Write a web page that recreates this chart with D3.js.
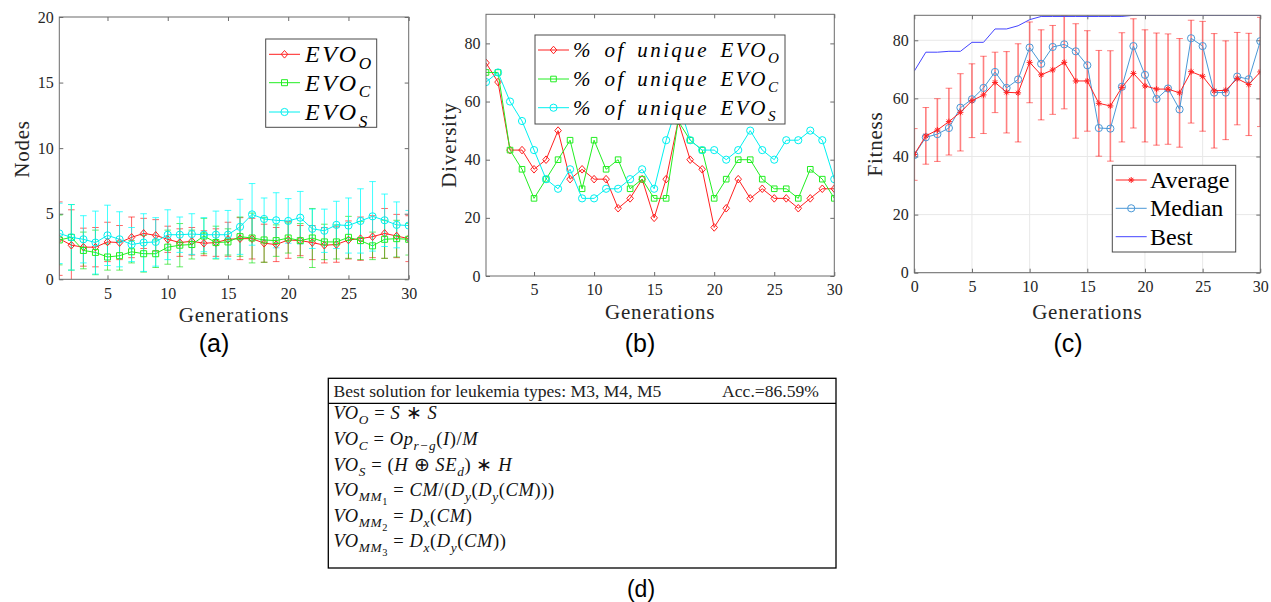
<!DOCTYPE html>
<html>
<head>
<meta charset="utf-8">
<script src="https://cdn.jsdelivr.net/npm/d3@7"></script>
<style>
  body { margin: 0; background: #fff; }
</style>
</head>
<body>
<svg id="fig" width="1271" height="602"></svg>
<script>
// ---- data ----
const generations = [1,2,3,4,5,6,7,8,9,10,11,12,13,14,15,16,17,18,19,20,21,22,23,24,25,26,27,28,29,30];
const fitnessGenerations = [0,1,2,3,4,5,6,7,8,9,10,11,12,13,14,15,16,17,18,19,20,21,22,23,24,25,26,27,28,29,30];

// (a) nodes, mean and std
const nodesO    = [3.1,2.6,2.45,2.45,2.85,2.8,3.2,3.5,3.35,3.05,2.8,2.9,2.75,2.8,3.05,3.1,3.1,2.75,2.65,3.0,2.95,2.8,2.6,2.65,3.0,3.1,3.25,3.5,3.3,3.1];
const nodesOErr = [2.8,2.7,1.45,1.5,1.5,1.3,1.55,1.15,1.2,1.0,1.05,1.05,0.95,1.05,1.3,1.6,1.55,1.45,1.3,1.4,1.15,1.3,1.35,1.35,1.45,1.65,1.6,1.9,1.65,1.75];
const nodesC    = [3.0,3.2,2.2,2.05,1.7,1.8,2.1,1.95,1.95,2.45,2.6,2.65,3.3,2.8,2.85,3.25,3.15,3.0,2.95,3.15,2.95,3.15,2.85,2.85,3.2,2.95,2.55,3.05,3.1,3.05];
const nodesCErr = [1.9,2.5,1.4,1.7,1.0,1.1,0.85,1.4,1.05,1.3,1.65,1.1,1.35,1.25,1.0,1.5,1.9,1.7,1.2,1.15,1.3,2.25,1.35,1.3,1.6,1.45,1.05,1.45,1.4,1.2];
const nodesS    = [3.5,3.2,3.05,2.8,3.35,3.05,2.65,2.8,2.85,3.4,3.4,3.45,3.4,3.4,3.4,4.0,4.95,4.6,4.5,4.45,4.7,3.85,3.7,4.15,4.1,4.45,4.8,4.5,4.15,4.1];
const nodesSErr = [2.3,2.5,1.8,2.4,2.3,2.1,1.3,2.2,1.85,1.9,1.35,1.55,1.3,1.8,1.85,2.1,2.35,1.6,2.1,1.7,2.0,1.5,1.65,1.8,2.1,2.45,2.65,2.0,1.75,1.15];

// (b) diversity, % of unique individuals
const divO = [73.3,66.7,43.3,43.3,36.7,40,50,33.3,36.7,33.3,33.3,23.3,26.7,33.3,20,33.3,53.3,40,36.7,16.7,23.3,33.3,26.7,30,26.7,26.7,23.3,26.7,30,30];
const divC = [70,70,43.3,36.7,26.7,33.3,40,46.7,30,46.7,36.7,40,30,33.3,26.7,26.7,53.3,46.7,43.3,26.7,33.3,40,40,33.3,30,30,26.7,36.7,33.3,26.7];
const divS = [66.7,70,60,53.3,43.3,33.3,30,36.7,26.7,26.7,30,30,33.3,36.7,30,46.7,60,46.7,43.3,43.3,40,43.3,50,43.3,40,46.7,46.7,50,46.7,33.3];

// (c) fitness
const fitAvg    = [40.7,47.1,49.1,52,55.2,59.2,61.2,65.5,62.1,61.9,72.4,68.1,69.8,72.4,66,66,58.3,57.4,63.8,68.6,64.3,63.2,63.2,61.9,69.2,67.6,62.6,62.8,66.8,64.8,69.1];
const fitAvgErr = [8.9,9.75,10.8,11.5,13.3,12.7,13.3,10.4,14,16.9,13.9,15.5,15.3,16,19.7,17.3,18.2,19,18.8,18.8,19.3,19.3,19,18.7,17.7,18.9,19.7,17,15.9,17.6,18.8];
const fitMedian = [40.5,46.6,47.7,49.8,56.8,59.7,63.6,69.1,63.6,66.5,77.5,71.9,77.7,78.6,76.2,71.4,49.8,49.6,64,78,68.1,59.8,63.4,56.2,80.7,78,62,62,67.5,66.6,79.7];
const fitBest   = [69.4,75.9,75.9,76.2,76.2,79.3,79.3,83.9,83.9,85,87.1,88.2,88.2,88.2,88.2,88.2,88.2,88.2,88.2,88.6,88.6,88.6,88.6,88.6,88.6,88.6,88.6,88.6,88.6,88.6,88.6];

// tick values
const genTicks = [5,10,15,20,25,30];
const fitGenTicks = [0,5,10,15,20,25,30];
const nodesTicks = [0,5,10,15,20];
const divTicks = [0,20,40,60,80];
const fitTicks = [0,20,40,60,80];

// (d) table
const tableHeader = "Best solution for leukemia types: M3, M4, M5";
const tableAcc = "Acc.=86.59%";
// [text, level (0 normal, 1 sub, 2 subsub), italic]
const tableRows = [
  [["VO",0,1],["O",1,1],[" = ",0,0],["S",0,1],[" \u2217 ",0,0],["S",0,1]],
  [["VO",0,1],["C",1,1],[" = ",0,0],["Op",0,1],["r\u2212g",1,1],["(",0,0],["I",0,1],[")/",0,0],["M",0,1]],
  [["VO",0,1],["S",1,1],[" = (",0,0],["H",0,1],[" \u2295 ",0,0],["SE",0,1],["d",1,1],[") \u2217 ",0,0],["H",0,1]],
  [["VO",0,1],["MM",1,1],["1",2,0],[" = ",0,0],["CM",0,1],["/(",0,0],["D",0,1],["y",1,1],["(",0,0],["D",0,1],["y",1,1],["(",0,0],["CM",0,1],[")))",0,0]],
  [["VO",0,1],["MM",1,1],["2",2,0],[" = ",0,0],["D",0,1],["x",1,1],["(",0,0],["CM",0,1],[")",0,0]],
  [["VO",0,1],["MM",1,1],["3",2,0],[" = ",0,0],["D",0,1],["x",1,1],["(",0,0],["D",0,1],["y",1,1],["(",0,0],["CM",0,1],["))",0,0]]
];

const SERIF = "'Liberation Serif', 'Times New Roman', serif";
const SANS = "'Liberation Sans', Arial, sans-serif";
const svg = d3.select("#fig");
const axisColor = "#6b6b6b";
const labelColor = "#262626";

// writes text made of parts with subscripts
function mathText(sel, x, y, parts, size, opts = {}) {
  const t = sel.append("text")
    .attr("x", x).attr("y", y)
    .style("font-family", SERIF)
    .style("font-size", size + "px")
    .attr("fill", opts.fill || "#000")
    .style("letter-spacing", (opts.spacing || 0) + "px")
    .style("word-spacing", (opts.wordSpacing || 0) + "px");
  let cur = 0;
  parts.forEach(([s, level, it]) => {
    const off = level === 0 ? 0 : level === 1 ? size * 0.28 : size * 0.48;
    const fs = level === 0 ? size : level === 1 ? size * 0.72 : size * 0.56;
    t.append("tspan")
      .attr("dy", off - cur)
      .style("font-size", fs + "px")
      .style("font-style", it ? "italic" : "normal")
      .style("white-space", "pre")
      .text(s);
    cur = off;
  });
  return t;
}

function markerPath(type, s) {
  if (type === "diamond") return `M0,${-s * 1.15}L${s},0L0,${s * 1.15}L${-s},0Z`;
  if (type === "square") return `M${-s},${-s}h${2 * s}v${2 * s}h${-2 * s}Z`;
  if (type === "circle") return d3.arc()({innerRadius: 0, outerRadius: s, startAngle: 0, endAngle: 2 * Math.PI});
  if (type === "star") {
    const d = s * 0.72;
    return `M0,${-s}V${s}M${-s},0H${s}M${-d},${-d}L${d},${d}M${-d},${d}L${d},${-d}`;
  }
  return "";
}

function makePanel(p) {
  const x = d3.scaleLinear().domain(p.xDomain).range([p.left, p.right]);
  const y = d3.scaleLinear().domain(p.yDomain).range([p.bottom, p.top]);
  const g = svg.append("g");
  const id = "clip" + p.name;
  g.append("clipPath").attr("id", id)
    .append("rect")
      .attr("x", p.left).attr("y", p.top)
      .attr("width", p.right - p.left).attr("height", p.bottom - p.top);

  if (p.grid) {
    g.append("g").selectAll("line").data(p.xTicks).join("line")
      .attr("x1", d => x(d)).attr("x2", d => x(d))
      .attr("y1", p.top).attr("y2", p.bottom)
      .attr("stroke", "#e8e8e8");
    g.append("g").selectAll("line").data(p.yTicks).join("line")
      .attr("y1", d => y(d)).attr("y2", d => y(d))
      .attr("x1", p.left).attr("x2", p.right)
      .attr("stroke", "#e8e8e8");
  }

  const styleAxis = a => {
    a.select(".domain").remove();
    a.selectAll(".tick line").attr("stroke", axisColor);
    a.selectAll(".tick text")
      .attr("fill", labelColor)
      .style("font-family", SERIF)
      .style("font-size", "16px");
  };
  g.append("g").attr("transform", `translate(0,${p.bottom})`)
    .call(d3.axisBottom(x).tickValues(p.xTicks).tickSize(-4).tickPadding(8).tickFormat(d3.format("d")))
    .call(styleAxis);
  g.append("g").attr("transform", `translate(0,${p.top})`)
    .call(d3.axisTop(x).tickValues(p.xTicks).tickSize(-4).tickFormat(""))
    .call(styleAxis);
  g.append("g").attr("transform", `translate(${p.left},0)`)
    .call(d3.axisLeft(y).tickValues(p.yTicks).tickSize(-4).tickPadding(5.5).tickFormat(d3.format("d")))
    .call(styleAxis);
  g.append("g").attr("transform", `translate(${p.right},0)`)
    .call(d3.axisRight(y).tickValues(p.yTicks).tickSize(-4).tickFormat(""))
    .call(styleAxis);

  const plot = g.append("g").attr("clip-path", `url(#${id})`);

  // frame and axis titles
  const frame = g.append("rect")
    .attr("x", p.left).attr("y", p.top)
    .attr("width", p.right - p.left).attr("height", p.bottom - p.top)
    .attr("fill", "none").attr("stroke", axisColor);

  g.append("text")
    .attr("x", (p.left + p.right) / 2).attr("y", p.xLabelY)
    .attr("text-anchor", "middle")
    .style("font-family", SERIF).style("font-size", "21px").style("letter-spacing", "0.8px")
    .attr("fill", labelColor)
    .text("Generations");
  g.append("text")
    .attr("transform", `translate(${p.yLabelX},${p.yLabelY}) rotate(-90)`)
    .attr("text-anchor", "middle").attr("dy", "0.35em")
    .style("font-family", SERIF).style("font-size", "21px").style("letter-spacing", "0.8px")
    .attr("fill", labelColor)
    .text(p.yLabel);
  svg.append("text")
    .attr("x", p.tagX).attr("y", p.tagY)
    .attr("text-anchor", "middle")
    .style("font-family", SANS).style("font-size", "25px")
    .text(p.tag);
  return {g, plot, x, y, frame};
}

function drawSeries(panel, xs, ys, color, marker, size, opts = {}) {
  const pts = xs.map((d, i) => [d, ys[i]]);
  panel.plot.append("path")
    .datum(pts)
    .attr("fill", "none")
    .attr("stroke", color)
    .attr("stroke-width", opts.width || 1)
    .attr("d", d3.line().x(d => panel.x(d[0])).y(d => panel.y(d[1])));
  if (marker) {
    panel.plot.append("g").selectAll("path").data(pts).join("path")
      .attr("transform", d => `translate(${panel.x(d[0])},${panel.y(d[1])})`)
      .attr("d", markerPath(marker, size))
      .attr("fill", "none")
      .attr("stroke", color)
      .attr("stroke-width", opts.markerWidth || 1);
  }
}

function drawErrorBars(panel, xs, ys, errs, color, opts = {}) {
  const pts = xs.map((d, i) => ({x: d, lo: ys[i] - errs[i], hi: ys[i] + errs[i]}));
  const eg = panel.plot.append("g")
    .attr("stroke", color)
    .attr("stroke-opacity", opts.opacity || 0.6)
    .attr("stroke-width", opts.width || 1);
  eg.selectAll(".v").data(pts).join("line").attr("class", "v")
    .attr("x1", d => panel.x(d.x)).attr("x2", d => panel.x(d.x))
    .attr("y1", d => panel.y(d.lo)).attr("y2", d => panel.y(d.hi));
  ["lo", "hi"].forEach(k => {
    eg.selectAll(".c" + k).data(pts).join("line").attr("class", "c" + k)
      .attr("stroke-width", 1)
      .attr("x1", d => panel.x(d.x) - 3.3).attr("x2", d => panel.x(d.x) + 3.3)
      .attr("y1", d => panel.y(d[k])).attr("y2", d => panel.y(d[k]));
  });
}

function drawLegend(box, entries) {
  const g = svg.append("g");
  g.append("rect")
    .attr("x", box.x).attr("y", box.y).attr("width", box.w).attr("height", box.h)
    .attr("fill", "#fff").attr("stroke", "#4a4a4a");
  entries.forEach(e => {
    g.append("line")
      .attr("x1", box.lx1).attr("x2", box.lx2).attr("y1", e.y).attr("y2", e.y)
      .attr("stroke", e.color);
    if (e.marker) {
      g.append("path")
        .attr("transform", `translate(${(box.lx1 + box.lx2) / 2},${e.y})`)
        .attr("d", markerPath(e.marker, e.size))
        .attr("fill", "none").attr("stroke", e.color);
    }
    mathText(g, box.tx, e.y + box.dy, e.parts, box.fs, {spacing: box.spacing, wordSpacing: box.wordSpacing});
  });
}

// ---- (a) Nodes ----
const pa = makePanel({
  name: "a", left: 59.3, right: 408.7, top: 17, bottom: 279.3,
  xDomain: [1, 30], yDomain: [0, 20], xTicks: genTicks, yTicks: nodesTicks,
  yLabel: "Nodes", yLabelX: 21.5, yLabelY: 149, xLabelY: 321.5,
  tag: "(a)", tagX: 214, tagY: 351.5
});
drawErrorBars(pa, generations, nodesO, nodesOErr, "#ff0000");
drawErrorBars(pa, generations, nodesC, nodesCErr, "#00e000");
drawErrorBars(pa, generations, nodesS, nodesSErr, "#00ffff", {opacity: 0.75});
drawSeries(pa, generations, nodesO, "#ff2020", "diamond", 3.3);
drawSeries(pa, generations, nodesC, "#22ee22", "square", 3);
drawSeries(pa, generations, nodesS, "#00f0f0", "circle", 3.6);
drawLegend({x: 265.7, y: 39, w: 111, h: 88.3, lx1: 269, lx2: 300, tx: 305, dy: 8, fs: 24, spacing: 2.6}, [
  {y: 54.3, color: "#ff2020", marker: "diamond", size: 3.3, parts: [["EVO",0,1],["O",1,1]]},
  {y: 82.7, color: "#22ee22", marker: "square", size: 3, parts: [["EVO",0,1],["C",1,1]]},
  {y: 112, color: "#00f0f0", marker: "circle", size: 3.6, parts: [["EVO",0,1],["S",1,1]]}
]);

// ---- (b) Diversity ----
const pb = makePanel({
  name: "b", left: 486, right: 834.3, top: 14.3, bottom: 276,
  xDomain: [1, 30], yDomain: [0, 90], xTicks: genTicks, yTicks: divTicks,
  yLabel: "Diversity", yLabelX: 448.5, yLabelY: 145, xLabelY: 319,
  tag: "(b)", tagX: 640, tagY: 351.5
});
drawSeries(pb, generations, divO, "#ff2020", "diamond", 3.3);
drawSeries(pb, generations, divC, "#22ee22", "square", 2.8);
drawSeries(pb, generations, divS, "#00f0f0", "circle", 3.6);
drawLegend({x: 535, y: 35, w: 250, h: 89, lx1: 538, lx2: 569, tx: 573, dy: 7, fs: 21, spacing: 2.4, wordSpacing: 4}, [
  {y: 50, color: "#ff2020", marker: "diamond", size: 3.3, parts: [["% of unique EVO",0,1],["O",1,1]]},
  {y: 79, color: "#22ee22", marker: "square", size: 2.8, parts: [["% of unique EVO",0,1],["C",1,1]]},
  {y: 107.7, color: "#00f0f0", marker: "circle", size: 3.6, parts: [["% of unique EVO",0,1],["S",1,1]]}
]);

// ---- (c) Fitness ----
const pc = makePanel({
  name: "c", left: 914.3, right: 1260.3, top: 15.3, bottom: 272.7,
  xDomain: [0, 30], yDomain: [0, 88.6], xTicks: fitGenTicks, yTicks: fitTicks, grid: true,
  yLabel: "Fitness", yLabelX: 874.5, yLabelY: 144, xLabelY: 318.5,
  tag: "(c)", tagX: 1068, tagY: 351.5
});
drawErrorBars(pc, fitnessGenerations, fitAvg, fitAvgErr, "#ff0000", {opacity: 0.5, width: 1.6});
drawSeries(pc, fitnessGenerations, fitMedian, "#4a98d6", "circle", 3.6);
drawSeries(pc, fitnessGenerations, fitAvg, "#ff2020", "star", 3);
drawSeries(pc, fitnessGenerations, fitBest, "#4444ff", null, 0);
drawLegend({x: 1112.3, y: 165.3, w: 123.4, h: 86.7, lx1: 1115.7, lx2: 1146.7, tx: 1150, dy: 8, fs: 24, spacing: 0}, [
  {y: 180, color: "#ff2020", marker: "star", size: 3, parts: [["Average",0,0]]},
  {y: 208.3, color: "#4a98d6", marker: "circle", size: 3.6, parts: [["Median",0,0]]},
  {y: 236.7, color: "#4444ff", marker: null, parts: [["Best",0,0]]}
]);

// ---- (d) table ----
const tb = svg.append("g");
tb.append("rect")
  .attr("x", 328.3).attr("y", 378.3).attr("width", 507.7).attr("height", 189.7)
  .attr("fill", "none").attr("stroke", "#000").attr("stroke-width", 1.3);
tb.append("line")
  .attr("x1", 328.3).attr("x2", 836).attr("y1", 403.3).attr("y2", 403.3)
  .attr("stroke", "#000").attr("stroke-width", 1.3);
tb.append("text").attr("x", 333.5).attr("y", 397.3)
  .style("font-family", SERIF).style("font-size", "17.6px")
  .attr("fill", "#222").text(tableHeader);
tb.append("text").attr("x", 819).attr("y", 397.3).attr("text-anchor", "end")
  .style("font-family", SERIF).style("font-size", "17.6px")
  .attr("fill", "#222").text(tableAcc);
tableRows.forEach((row, i) => {
  mathText(tb, 333.5, 419.3 + i * 25.6, row, 18.5, {fill: "#111", spacing: 0.6});
});
svg.append("text")
  .attr("x", 641).attr("y", 597).attr("text-anchor", "middle")
  .style("font-family", SANS).style("font-size", "23px")
  .text("(d)");
</script>
</body>
</html>
